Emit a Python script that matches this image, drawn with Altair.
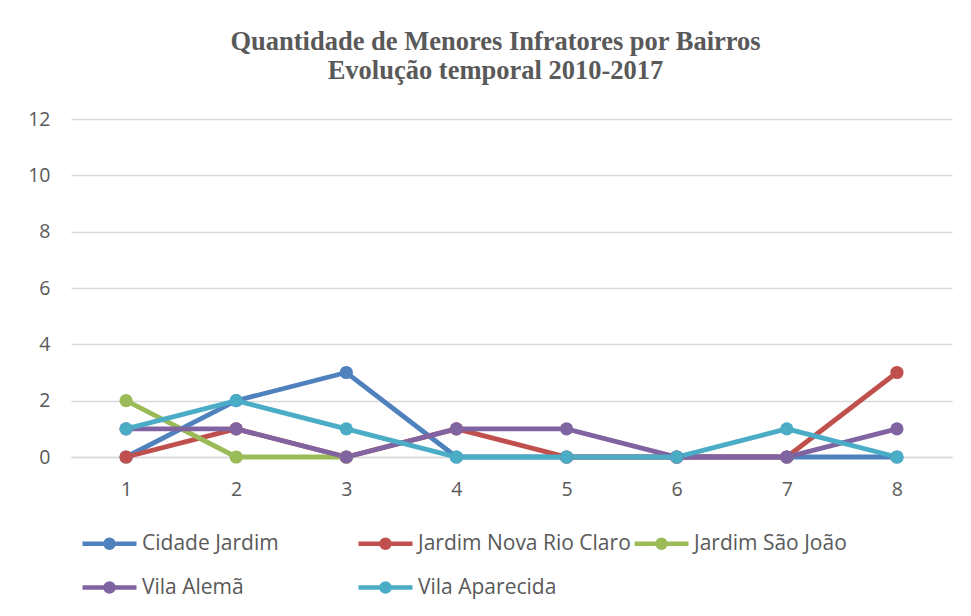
import altair as alt
import pandas as pd

periods = [1, 2, 3, 4, 5, 6, 7, 8]
series_names = ["Cidade Jardim", "Jardim Nova Rio Claro", "Jardim São João", "Vila Alemã", "Vila Aparecida"]
cidade_jardim = [0, 2, 3, 0, 0, 0, 0, 0]
jardim_nova_rio_claro = [0, 1, 0, 1, 0, 0, 0, 3]
jardim_sao_joao = [2, 0, 0, None, None, None, None, None]
vila_alema = [1, 1, 0, 1, 1, 0, 0, 1]
vila_aparecida = [1, 2, 1, 0, 0, 0, 1, 0]
colors = ["#4F81BD", "#C0504D", "#9BBB59", "#8064A2", "#4BACC6"]

rows = []
for name, vals in zip(series_names, [cidade_jardim, jardim_nova_rio_claro, jardim_sao_joao, vila_alema, vila_aparecida]):
    for p, v in zip(periods, vals):
        if v is not None:
            rows.append({"periodo": p, "serie": name, "valor": v, "ordem": series_names.index(name)})
df = pd.DataFrame(rows)

font = "Open Sans"
gray = "#595959"
# legend symbol: line with dot, drawn as stroked path
sym = ("M-2.7,0H2.7"
       "M0.4,0A0.4,0.4,0,1,1,-0.4,0A0.4,0.4,0,1,1,0.4,0Z"
       "M0.2,0A0.2,0.2,0,1,1,-0.2,0A0.2,0.2,0,1,1,0.2,0Z")

color = alt.Color(
    "serie:N",
    scale=alt.Scale(domain=series_names, range=colors),
    legend=alt.Legend(
        title=None,
        orient="none",
        direction="horizontal",
        legendX=9,
        legendY=412,
        columns=3,
        gridAlign="all",
        symbolType=sym,
        symbolSize=400,
        symbolStrokeWidth=4.5,
        symbolOffset=17,
        labelFont=font,
        labelFontSize=21,
        labelColor=gray,
        labelOffset=20,
        rowPadding=17,
        columnPadding=-6,
        labelLimit=400,
    ),
)

base = alt.Chart(df).encode(
    x=alt.X(
        "periodo:O",
        axis=alt.Axis(
            title=None,
            labelAngle=0,
            labelFont=font,
            labelFontSize=19.5,
            labelColor=gray,
            ticks=False,
            tickSize=0,
            labelPadding=23,
            domainColor="#d9d9d9",
            domainWidth=1.5,
        ),
    ),
    y=alt.Y(
        "valor:Q",
        scale=alt.Scale(domain=[0, 12], nice=False),
        axis=alt.Axis(
            title=None,
            values=[0, 2, 4, 6, 8, 10, 12],
            labelFont=font,
            labelFontSize=19.5,
            labelColor=gray,
            ticks=False,
            tickSize=0,
            labelPadding=21,
            domain=False,
            gridColor="#d9d9d9",
            gridWidth=1.5,
        ),
    ),
    color=color,
    order=alt.Order("ordem:Q"),
)

lines = base.mark_line(strokeWidth=4.8)
points = base.mark_point(filled=True, size=175, opacity=1)

chart = (
    alt.layer(lines, points)
    .properties(
        width=881,
        height=338,
        autosize=alt.AutoSizeParams(type="none"),
        padding={"left": 63, "top": 111, "right": 11, "bottom": 151},
        title=alt.TitleParams(
            text=["Quantidade de Menores Infratores por Bairros", "Evolução temporal 2010-2017"],
            font="Liberation Serif",
            fontSize=26.5,
            fontWeight="bold",
            color=gray,
            anchor="middle",
            frame="group",
            dx=-16,
            offset=25,
            lineHeight=29,
        ),
    )
    .configure_view(stroke=None)
)

chart.save("out.html", embed_options={"renderer": "svg", "actions": False})
